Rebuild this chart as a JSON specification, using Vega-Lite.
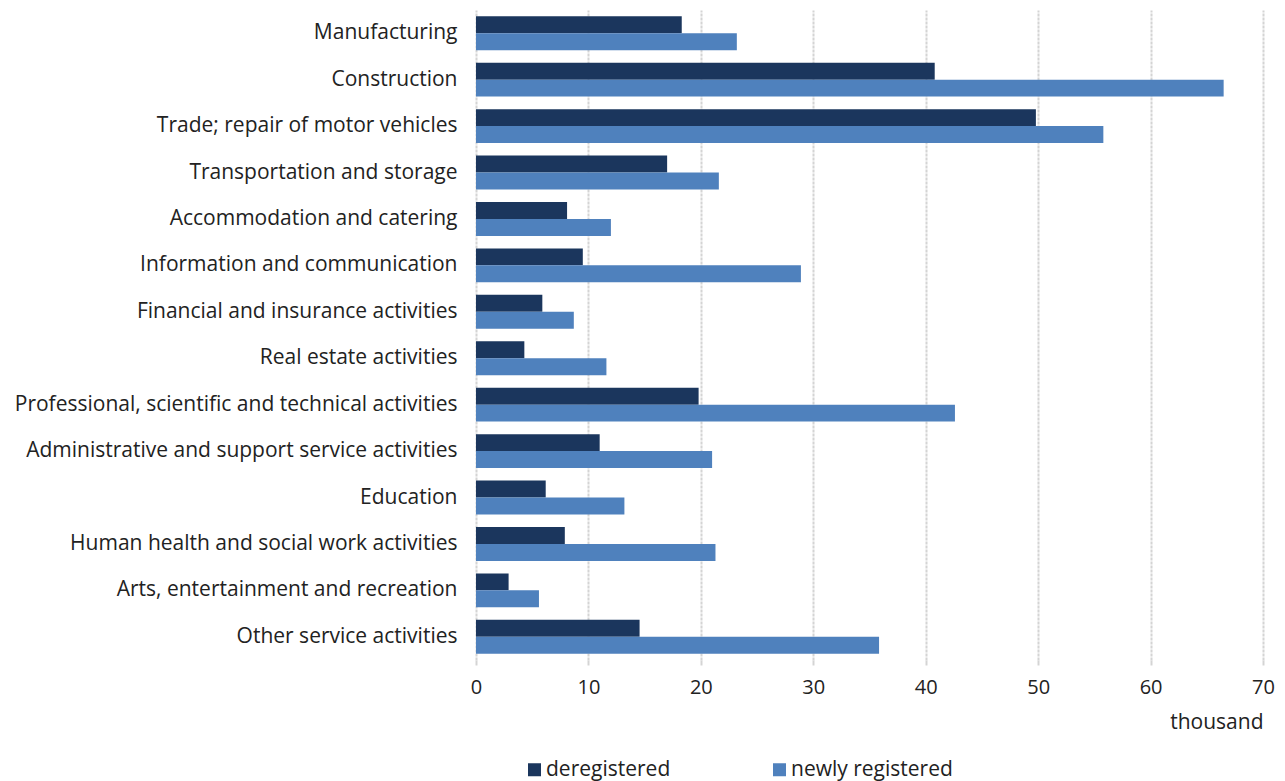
{
  "$schema": "https://vega.github.io/schema/vega-lite/v6.json",
  "width": 787,
  "height": 650,
  "autosize": {"type": "none"},
  "padding": {"left": 476, "top": 10, "right": 22, "bottom": 121},
  "background": "#ffffff",
  "config": {"font": "Open Sans", "view": {"stroke": null}},
  "data": {
    "values": [
      {"sector": "Manufacturing", "series": "deregistered", "value": 18.3},
      {"sector": "Manufacturing", "series": "newly registered", "value": 23.2},
      {"sector": "Construction", "series": "deregistered", "value": 40.8},
      {"sector": "Construction", "series": "newly registered", "value": 66.5},
      {"sector": "Trade; repair of motor vehicles", "series": "deregistered", "value": 49.8},
      {"sector": "Trade; repair of motor vehicles", "series": "newly registered", "value": 55.8},
      {"sector": "Transportation and storage", "series": "deregistered", "value": 17.0},
      {"sector": "Transportation and storage", "series": "newly registered", "value": 21.6},
      {"sector": "Accommodation and catering", "series": "deregistered", "value": 8.1},
      {"sector": "Accommodation and catering", "series": "newly registered", "value": 12.0},
      {"sector": "Information and communication", "series": "deregistered", "value": 9.5},
      {"sector": "Information and communication", "series": "newly registered", "value": 28.9},
      {"sector": "Financial and insurance activities", "series": "deregistered", "value": 5.9},
      {"sector": "Financial and insurance activities", "series": "newly registered", "value": 8.7},
      {"sector": "Real estate activities", "series": "deregistered", "value": 4.3},
      {"sector": "Real estate activities", "series": "newly registered", "value": 11.6},
      {"sector": "Professional, scientific and technical activities", "series": "deregistered", "value": 19.8},
      {"sector": "Professional, scientific and technical activities", "series": "newly registered", "value": 42.6},
      {"sector": "Administrative and support service activities", "series": "deregistered", "value": 11.0},
      {"sector": "Administrative and support service activities", "series": "newly registered", "value": 21.0},
      {"sector": "Education", "series": "deregistered", "value": 6.2},
      {"sector": "Education", "series": "newly registered", "value": 13.2},
      {"sector": "Human health and social work activities", "series": "deregistered", "value": 7.9},
      {"sector": "Human health and social work activities", "series": "newly registered", "value": 21.3},
      {"sector": "Arts, entertainment and recreation", "series": "deregistered", "value": 2.9},
      {"sector": "Arts, entertainment and recreation", "series": "newly registered", "value": 5.6},
      {"sector": "Other service activities", "series": "deregistered", "value": 14.55},
      {"sector": "Other service activities", "series": "newly registered", "value": 35.85}
    ]
  },
  "mark": {"type": "bar"},
  "encoding": {
    "y": {
      "field": "sector",
      "type": "nominal",
      "sort": null,
      "scale": {"paddingInner": 0.27, "paddingOuter": 0.135},
      "axis": {
        "title": null,
        "labelFontSize": 21,
        "labelColor": "#222222",
        "labelPadding": 19,
        "labelLimit": 500,
        "ticks": false,
        "domain": false,
        "grid": false
      }
    },
    "yOffset": {"field": "series", "type": "nominal", "sort": ["deregistered", "newly registered"]},
    "x": {
      "field": "value",
      "type": "quantitative",
      "scale": {"domain": [0, 70], "nice": false},
      "axis": {
        "values": [0, 10, 20, 30, 40, 50, 60, 70],
        "grid": true,
        "gridColor": "#d4d4d4",
        "gridWidth": 2,
        "gridDash": [3, 1],
        "domain": false,
        "ticks": true,
        "tickColor": "#d4d4d4",
        "tickWidth": 2,
        "tickSize": 5,
        "labelFontSize": 20,
        "labelColor": "#222222",
        "labelPadding": 12,
        "labelFlush": false,
        "title": "thousand",
        "titleAnchor": "end",
        "titleAlign": "right",
        "titleFontWeight": "normal",
        "titleFontSize": 21,
        "titleColor": "#222222",
        "titlePadding": 14
      }
    },
    "color": {
      "field": "series",
      "type": "nominal",
      "scale": {"domain": ["deregistered", "newly registered"], "range": ["#1b365d", "#4f81bd"]},
      "legend": {
        "orient": "none",
        "legendX": 48,
        "legendY": 749,
        "direction": "horizontal",
        "title": null,
        "symbolType": "square",
        "symbolSize": 169,
        "symbolStrokeWidth": 0,
        "labelFontSize": 21,
        "labelColor": "#222222",
        "labelOffset": 1,
        "labelLimit": 400,
        "columnPadding": 98
      }
    }
  }
}
